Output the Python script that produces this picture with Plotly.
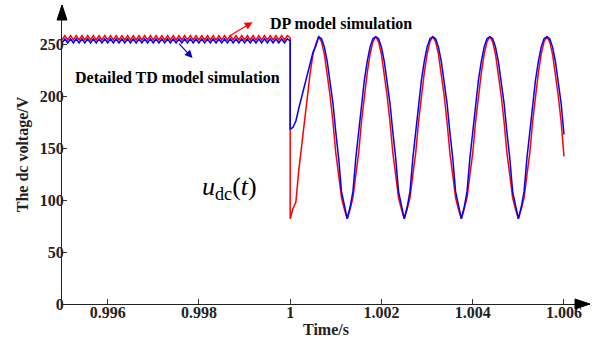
import plotly.graph_objects as go

# ---------------- data ----------------
t_start = 0.995
t_step = 0.0000625            # sample spacing, s
t_switch = 1.0

# steady-state ripple before the switching instant (81 samples, 0.995 .. 1.0 s)
dp_pre = [
    254, 258, 254, 258, 254, 258, 254, 258, 254, 258,
    254, 258, 254, 258, 254, 258, 254, 258, 254, 258,
    254, 258, 254, 258, 254, 258, 254, 258, 254, 258,
    254, 258, 254, 258, 254, 258, 254, 258, 254, 258,
    254, 258, 254, 258, 254, 258, 254, 258, 254, 258,
    254, 258, 254, 258, 254, 258, 254, 258, 254, 258,
    254, 258, 254, 258, 254, 258, 254, 258, 254, 258,
    254, 258, 254, 258, 254, 258, 254, 258, 254, 258,
    256,
]
td_pre = [
    251, 255, 251, 255, 251, 255, 251, 255, 251, 255,
    251, 255, 251, 255, 251, 255, 251, 255, 251, 255,
    251, 255, 251, 255, 251, 255, 251, 255, 251, 255,
    251, 255, 251, 255, 251, 255, 251, 255, 251, 255,
    251, 255, 251, 255, 251, 255, 251, 255, 251, 255,
    251, 255, 251, 255, 251, 255, 251, 255, 251, 255,
    251, 255, 251, 255, 251, 255, 251, 255, 251, 255,
    251, 255, 251, 255, 251, 255, 251, 255, 251, 255,
    253,
]

# response after the switching instant (97 samples, 1.0 .. 1.006 s)
dp_post = [
    82, 92, 98, 128, 152, 176, 202, 222, 240, 250, 257,
    252, 240, 222, 200, 175, 145, 124, 102, 91, 82,
    91, 102, 124, 145, 175, 200, 222, 240, 252, 257,
    252, 240, 222, 200, 175, 145, 124, 102, 91, 82,
    91, 102, 124, 145, 175, 200, 222, 240, 252, 257,
    252, 240, 222, 200, 175, 145, 124, 102, 91, 82,
    91, 102, 124, 145, 175, 200, 222, 240, 252, 257,
    252, 240, 222, 200, 175, 145, 124, 102, 91, 82,
    91, 102, 124, 145, 175, 200, 222, 240, 252, 257,
    252, 240, 222, 200, 175, 142,
]
td_post = [
    168, 170, 176, 188, 199, 210, 222, 233, 242, 248, 257,
    255, 247, 233, 215, 193, 165, 140, 108, 93, 82,
    93, 108, 140, 165, 193, 215, 233, 247, 255, 257,
    255, 247, 233, 215, 193, 165, 140, 108, 93, 82,
    93, 108, 140, 165, 193, 215, 233, 247, 255, 257,
    255, 247, 233, 215, 193, 165, 140, 108, 93, 82,
    93, 108, 140, 165, 193, 215, 233, 247, 255, 257,
    255, 247, 233, 215, 193, 165, 140, 108, 93, 82,
    93, 108, 140, 165, 193, 215, 233, 247, 255, 257,
    255, 247, 233, 215, 193, 163,
]

x_tickvals = [0.996, 0.998, 1.0, 1.002, 1.004, 1.006]
x_ticktext = ["0.996", "0.998", "1", "1.002", "1.004", "1.006"]
y_tickvals = [0, 50, 100, 150, 200, 250]
y_ticktext = ["0", "50", "100", "150", "200", "250"]

# ---------------- figure ----------------
t_pre = [t_start + i * t_step for i in range(len(dp_pre))]
t_post = [t_switch + j * t_step for j in range(len(dp_post))]
t_all = t_pre + t_post

FONT = "Liberation Serif, Times New Roman, serif"

fig = go.Figure()
fig.add_trace(go.Scatter(x=t_all, y=dp_pre + dp_post, mode="lines",
                         line=dict(color="#FF0000", width=1.5),
                         name="DP model simulation", showlegend=False))
fig.add_trace(go.Scatter(x=t_all, y=td_pre + td_post, mode="lines",
                         line=dict(color="#0000FF", width=1.5),
                         name="Detailed TD model simulation", showlegend=False))

W, H = 594, 347
ml, mr, mt, mb = 62, 4, 5, 43
pw, ph = W - ml - mr, H - mt - mb

axis_font = dict(family=FONT, size=16, color="#222222", weight="bold")

fig.update_layout(
    width=W, height=H,
    margin=dict(l=ml, r=mr, t=mt, b=mb),
    paper_bgcolor="white", plot_bgcolor="white",
    xaxis=dict(range=[0.995, 1.00657], tickvals=x_tickvals, ticktext=x_ticktext,
               ticks="inside", ticklen=5, tickwidth=1, tickcolor="#333333",
               showline=True, linecolor="#222222", linewidth=1.3,
               showgrid=False, zeroline=False, tickfont=axis_font,
               ticklabelstandoff=-6,
               title=dict(text="Time/s", font=axis_font, standoff=3)),
    yaxis=dict(range=[0, 287.5], tickvals=y_tickvals, ticktext=y_ticktext,
               ticks="inside", ticklen=5, tickwidth=1, tickcolor="#333333",
               showline=True, linecolor="#222222", linewidth=1.3,
               showgrid=False, zeroline=False, tickfont=axis_font,
               ticklabelstandoff=-6,
               title=dict(text="The dc voltage/V", font=axis_font, standoff=7)),
)

# arrow heads at the ends of the axes
ax_len, ax_half = 15, 5
fig.add_shape(type="path", xref="paper", yref="paper",
              path=f"M 1.0 0 L {1 - ax_len / pw} {ax_half / ph} L {1 - ax_len / pw} {-ax_half / ph} Z",
              fillcolor="black", line=dict(color="black", width=1), layer="above")
fig.add_shape(type="path", xref="paper", yref="paper",
              path=f"M 0 1.0 L {ax_half / pw} {1 - ax_len / ph} L {-ax_half / pw} {1 - ax_len / ph} Z",
              fillcolor="black", line=dict(color="black", width=1), layer="above")

label_font = dict(family=FONT, size=16, color="black", weight="bold")
fig.add_annotation(x=0.99952, y=270, xref="x", yref="y", text="DP model simulation",
                   showarrow=False, xanchor="left", yanchor="middle", font=label_font)
fig.add_annotation(x=0.99525, y=218, xref="x", yref="y", text="Detailed TD model simulation",
                   showarrow=False, xanchor="left", yanchor="middle", font=label_font)

# pointer arrows
fig.add_annotation(x=0.999175, y=271, xref="x", yref="y", text="", showarrow=True,
                   ax=-25, ay=15, arrowhead=2, arrowsize=1.3, arrowwidth=1.2,
                   arrowcolor="#FF0000", standoff=0)
fig.add_annotation(x=0.997861, y=236.5, xref="x", yref="y", text="", showarrow=True,
                   ax=-15, ay=-16, arrowhead=2, arrowsize=1.3, arrowwidth=1.2,
                   arrowcolor="#0000CC", standoff=0)

fig.add_annotation(x=0.99802, y=112, xref="x", yref="y",
                   text="<i>u</i><sub>dc</sub>(<i>t</i>)",
                   showarrow=False, xanchor="left", yanchor="middle",
                   font=dict(family=FONT, size=26, color="black"))

fig.write_html("out.html", config={"displayModeBar": False},
               post_script="document.body.style.margin='0';document.body.style.padding='0';")
